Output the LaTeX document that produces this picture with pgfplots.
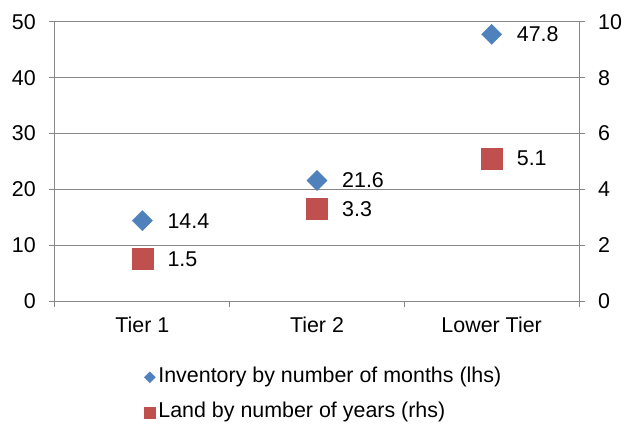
\documentclass[border=0pt]{standalone}
\usepackage{pgfplots}
\pgfplotsset{compat=1.18}
\usepackage{fontspec}
\setmainfont{Liberation Sans}
\definecolor{invblue}{HTML}{4F81BD}
\definecolor{landred}{HTML}{C0504D}
\definecolor{axgray}{HTML}{868686}
\newcommand{\chartfont}{\fontsize{21.5}{25.8}\selectfont}
\begin{document}
\begin{tikzpicture}[font=\chartfont]
\useasboundingbox (-55bp,-123bp) rectangle (569bp,301bp);
\pgfplotsset{
  common/.style={
    scale only axis, width=524bp, height=279bp, at={(0,0)}, anchor=south west,
    xmin=-0.5, xmax=2.5, ymin=0,
    tick align=outside, major tick length=6bp,
    every tick/.style={axgray, line width=1bp},
    axis line style={axgray, line width=1bp},
    /pgf/number format/assume math mode=true,
    tick label style={font=\chartfont, text=black, inner sep=0pt},
    clip=false,
  }
}
\begin{axis}[common, ymax=50, ytick={0,10,...,50},
  axis x line*=bottom, axis y line*=left,
  ymajorgrids, grid style={axgray, line width=1bp},
  xtick={-0.5,0.5,1.5,2.5}, xticklabels={Tier 1, Tier 2, Lower Tier},
  x tick label as interval,
  yticklabel style={xshift=-13bp},
  xticklabel style={yshift=-10bp},
]
\addplot[only marks, mark=square*, mark size=7.1bp, color=invblue,
  mark options={rotate=45, fill=invblue, draw=invblue},
  point meta=explicit symbolic, nodes near coords,
  nodes near coords style={anchor=west, xshift=25bp, inner sep=0pt, text=black, font=\chartfont}]
  coordinates {(0,14.4) [14.4] (1,21.6) [21.6] (2,47.8) [47.8]};
\end{axis}
\begin{axis}[common, ymax=10, ytick={0,2,...,10},
  axis y line*=right, axis x line=none,
  yticklabel style={xshift=13bp},
  legend style={at={(0.512,-0.226)}, anchor=north, draw=none, fill=none,
    font=\chartfont, row sep=13bp, column sep=2bp,
    nodes={inner sep=1bp, text height=15.5bp, text depth=4.5bp}},
  legend cell align=left,
]
\addlegendimage{legend image code/.code={\draw[invblue, mark=square*, mark size=3.9bp, mark options={rotate=45, fill=invblue, draw=invblue}] plot coordinates {(0bp,0bp)};}}
\addlegendentry{Inventory by number of months (lhs)}
\addplot[only marks, mark=square*, mark size=10.5bp, color=landred,
  mark options={fill=landred, draw=landred},
  point meta=explicit symbolic, nodes near coords,
  nodes near coords style={anchor=west, xshift=25bp, inner sep=0pt, text=black, font=\chartfont},
  legend image code/.code={\draw[landred, mark=square*, mark size=5.5bp, mark options={fill=landred, draw=landred}] plot coordinates {(0bp,0bp)};}]
  coordinates {(0,1.5) [1.5] (1,3.3) [3.3] (2,5.1) [5.1]};
\addlegendentry{Land by number of years (rhs)}
\end{axis}
\end{tikzpicture}
\end{document}
